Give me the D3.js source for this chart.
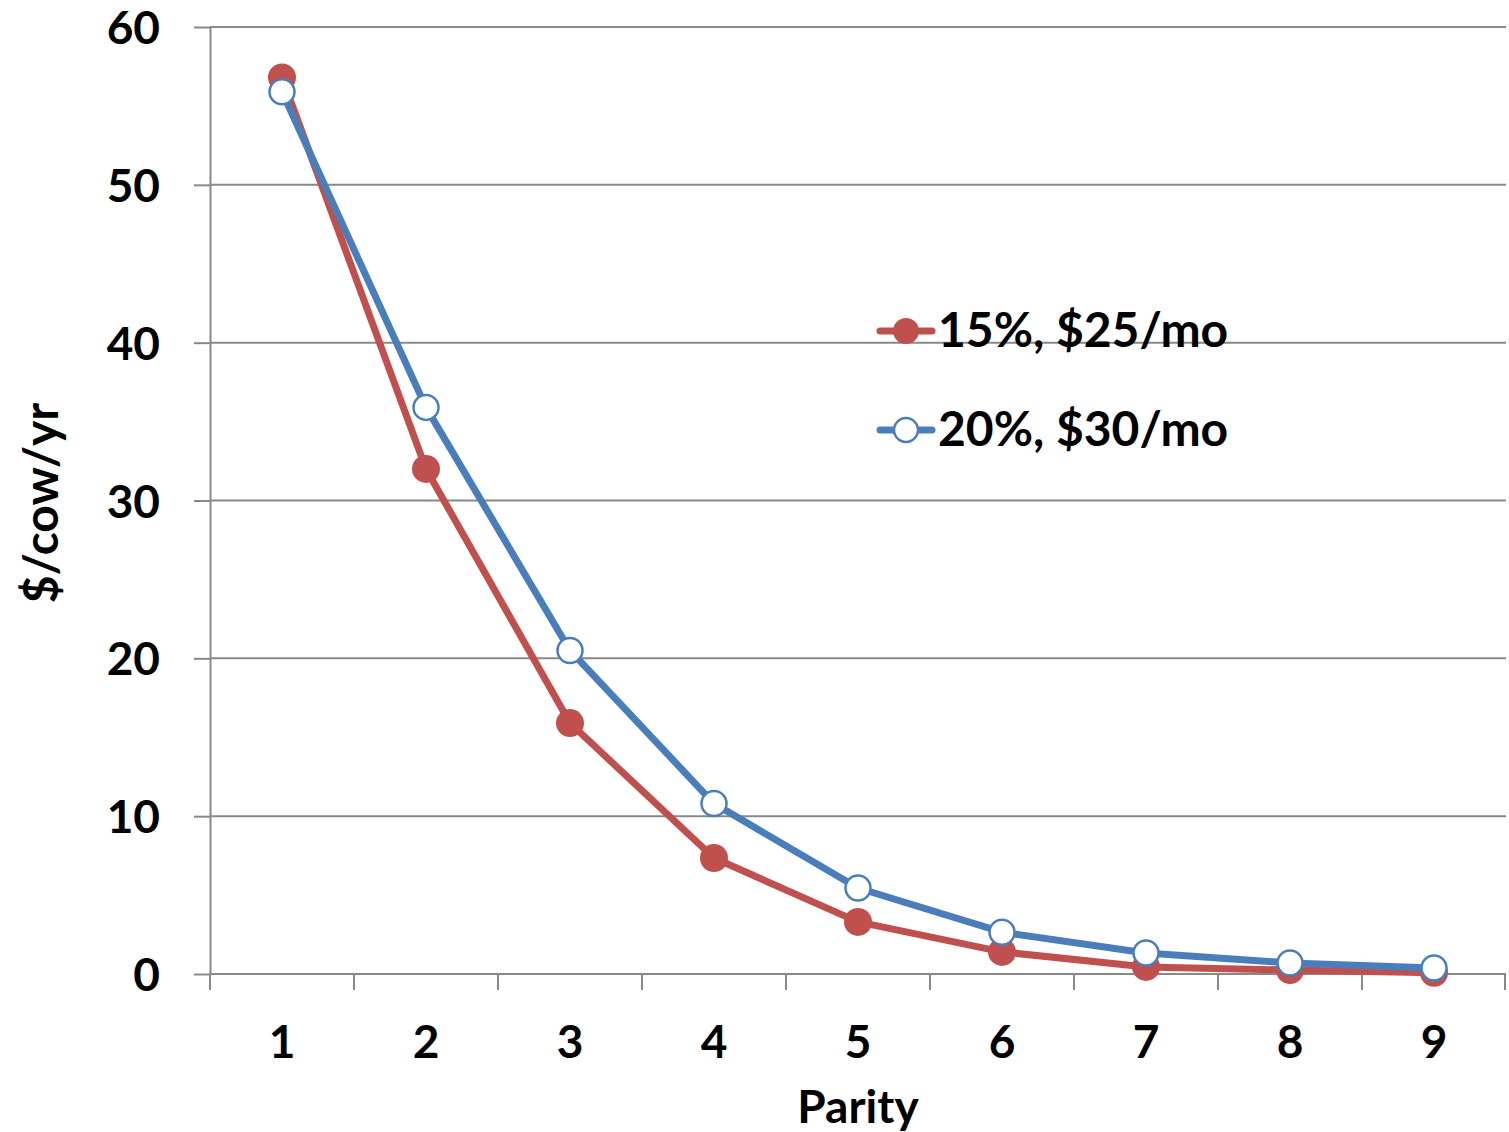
<!DOCTYPE html>
<html>
<head>
<meta charset="utf-8">
<script src="https://cdn.jsdelivr.net/npm/d3@7/dist/d3.min.js"></script>
<style>
  html, body { margin: 0; padding: 0; background: #fff; }
  svg { display: block; }
  text { font-family: Lato, "Open Sans", sans-serif; font-weight: 700; fill: #000; }
</style>
</head>
<body>
<svg id="chart" width="1509" height="1132"></svg>
<script>
// Parity categories and the two cost series ($/cow/yr)
const parities = [1, 2, 3, 4, 5, 6, 7, 8, 9];
const seriesLow = [56.8, 32.0, 15.9, 7.35, 3.3, 1.4, 0.45, 0.25, 0.08];   // 15%, $25/mo
const seriesHigh = [55.9, 35.9, 20.5, 10.8, 5.45, 2.65, 1.33, 0.7, 0.38]; // 20%, $30/mo
const seriesNames = ["15%, $25/mo", "20%, $30/mo"];
const yTicks = [0, 10, 20, 30, 40, 50, 60];

const svg = d3.select("#chart");
const plotLeft = 210, plotRight = 1506, plotTop = 27, plotBottom = 974;
const gridColor = "#888888";
const red = "#C0504D", blue = "#4A7EBB";

const x = d3.scaleBand().domain(parities).range([plotLeft, plotRight]);
const y = d3.scaleLinear().domain([0, 60]).range([plotBottom, plotTop]);

// horizontal gridlines with outward ticks
const yAxis = svg.append("g").attr("transform", `translate(${plotLeft},0)`)
  .call(d3.axisLeft(y).tickValues(yTicks).tickSize(16).tickPadding(34).tickSizeOuter(0));
yAxis.select(".domain").attr("stroke", gridColor).attr("stroke-width", 2);
yAxis.selectAll(".tick line").attr("stroke", gridColor).attr("stroke-width", 2);
yAxis.selectAll(".tick text").style("font-size", "46px").attr("dy", "0.36em");
svg.append("g").selectAll("line").data(yTicks.filter(d => d > 0)).join("line")
  .attr("x1", plotLeft).attr("x2", plotRight)
  .attr("y1", d => y(d)).attr("y2", d => y(d))
  .attr("stroke", gridColor).attr("stroke-width", 2);

// x axis: ticks at category boundaries
const xAxis = svg.append("g").attr("transform", `translate(0,${plotBottom})`);
xAxis.append("line").attr("x1", plotLeft).attr("x2", plotRight).attr("y1", 0).attr("y2", 0)
  .attr("stroke", gridColor).attr("stroke-width", 2);
const edges = parities.map(p => x(p)).concat([x(9) + x.bandwidth()]);
xAxis.selectAll("line.tk").data(edges).join("line").attr("class", "tk")
  .attr("x1", d => Math.min(d, plotRight - 1)).attr("x2", d => Math.min(d, plotRight - 1))
  .attr("y1", 0).attr("y2", 16).attr("stroke", gridColor).attr("stroke-width", 2);
xAxis.selectAll("text").data(parities).join("text")
  .attr("x", d => x(d) + x.bandwidth() / 2).attr("y", 84)
  .attr("text-anchor", "middle").style("font-size", "46px").text(d => d);

// axis titles
svg.append("text").attr("x", 858).attr("y", 1123).attr("text-anchor", "middle")
  .style("font-size", "46px").text("Parity");
svg.append("text").attr("transform", "translate(58,503) rotate(-90)")
  .attr("text-anchor", "middle").style("font-size", "48px").text("$/cow/yr");

const cx = d => x(d) + x.bandwidth() / 2;
const line = d3.line().x((d, i) => cx(parities[i])).y(d => y(d));

// series 1: filled red markers
svg.append("path").datum(seriesLow).attr("d", line)
  .attr("fill", "none").attr("stroke", red).attr("stroke-width", 7).attr("stroke-linejoin", "round");
svg.append("g").selectAll("circle").data(seriesLow).join("circle")
  .attr("cx", (d, i) => cx(parities[i])).attr("cy", d => y(d)).attr("r", 14).attr("fill", red);

// series 2: open blue markers
svg.append("path").datum(seriesHigh).attr("d", line)
  .attr("fill", "none").attr("stroke", blue).attr("stroke-width", 7).attr("stroke-linejoin", "round");
svg.append("g").selectAll("circle").data(seriesHigh).join("circle")
  .attr("cx", (d, i) => cx(parities[i])).attr("cy", d => y(d)).attr("r", 12.5)
  .attr("fill", "#fff").attr("stroke", blue).attr("stroke-width", 2.5);

// legend
const legend = svg.append("g");
[[red, true, 331], [blue, false, 430]].forEach(([c, filled, ly], i) => {
  legend.append("line").attr("x1", 880).attr("x2", 932).attr("y1", ly).attr("y2", ly)
    .attr("stroke", c).attr("stroke-width", 7).attr("stroke-linecap", "round");
  legend.append("circle").attr("cx", 906).attr("cy", ly).attr("r", filled ? 13 : 12)
    .attr("fill", filled ? c : "#fff").attr("stroke", filled ? "none" : c).attr("stroke-width", 2.5);
  legend.append("text").attr("x", 938).attr("y", ly + 16).style("font-size", "48px").text(seriesNames[i]);
});
</script>
</body>
</html>
